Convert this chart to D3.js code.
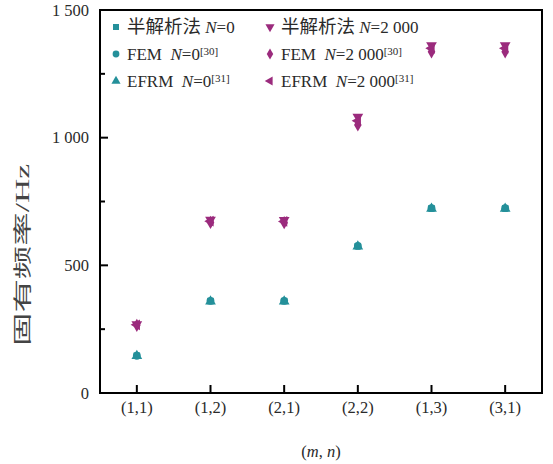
<!DOCTYPE html>
<html><head><meta charset="utf-8">
<script src="https://cdn.jsdelivr.net/npm/d3@7"></script>
<style>body{margin:0;background:#fff}</style>
</head><body>
<svg id="c" width="553" height="464"></svg>
<script>
const categories = ["(1,1)","(1,2)","(2,1)","(2,2)","(1,3)","(3,1)"];
const semi0    = [146, 360, 360, 575, 723, 723];
const fem0     = [146, 361, 361, 576, 724, 724];
const efrm0    = [145, 359, 359, 574, 722, 722];
const semi2000 = [269, 678, 677, 1082, 1362, 1362];
const fem2000  = [265, 668, 667, 1050, 1336, 1336];
const efrm2000 = [267, 673, 672, 1066, 1350, 1350];
const yTicks = [0, 500, 1000, 1500];
const yTickLabels = ["0", "500", "1 000", "1 500"];
const yMinor = [250, 750, 1250];

const teal = "#24909a", mag = "#9b2b7d";
const serif = "'Liberation Serif','Times New Roman',serif";
const cjk = "'Liberation Serif','Noto Sans CJK SC',serif";
const txt = "#2a2a2a";

const L = 100, R = 542, T = 10, B = 393;
const svg = d3.select("#c");
const x = d3.scalePoint().domain(categories).range([L, R]).padding(0.5);
const y = d3.scaleLinear().domain([0, 1500]).range([B, T]);

// frame
svg.append("rect").attr("x", L).attr("y", T).attr("width", R-L).attr("height", B-T)
  .attr("fill","none").attr("stroke","#000").attr("stroke-width",2);

// y axis ticks (inward)
const gy = svg.append("g");
yTicks.forEach((v,i)=>{
  gy.append("line").attr("x1",L).attr("x2",L+8).attr("y1",y(v)).attr("y2",y(v)).attr("stroke","#000").attr("stroke-width",2);
  gy.append("text").attr("x",L-11).attr("y",y(v)).attr("dy","0.35em").attr("text-anchor","end")
    .attr("font-family",serif).attr("font-size",16.5).attr("fill",txt).text(yTickLabels[i]);
});
yMinor.forEach(v=>{
  gy.append("line").attr("x1",L).attr("x2",L+5).attr("y1",y(v)).attr("y2",y(v)).attr("stroke","#000").attr("stroke-width",2);
});
// x axis ticks (inward)
categories.forEach(c=>{
  svg.append("line").attr("x1",x(c)).attr("x2",x(c)).attr("y1",B).attr("y2",B-8).attr("stroke","#000").attr("stroke-width",2);
  svg.append("text").attr("x",x(c)).attr("y",B+20).attr("text-anchor","middle")
    .attr("font-family",serif).attr("font-size",16.5).attr("fill",txt).text(c);
});
// axis titles
const xt = svg.append("text").attr("x",(L+R)/2).attr("y",457).attr("text-anchor","middle")
  .attr("font-family",serif).attr("font-size",16.5).attr("fill",txt);
xt.append("tspan").text("(");
xt.append("tspan").attr("font-style","italic").text("m");
xt.append("tspan").text(", ");
xt.append("tspan").attr("font-style","italic").text("n");
xt.append("tspan").text(")");

svg.append("text").attr("transform","translate(29,255) rotate(-90)").attr("text-anchor","middle")
  .attr("font-family",cjk).attr("font-size",18).attr("fill","#444")
  .attr("textLength",182).attr("lengthAdjust","spacingAndGlyphs").text("固有频率/Hz");

// symbols
const sym = {
  square: d3.symbol().type(d3.symbolSquare).size(42),
  circle: d3.symbol().type(d3.symbolCircle).size(48),
  tri: d3.symbol().type(d3.symbolTriangle).size(50),
  diamond: d3.symbol().type(d3.symbolDiamond).size(50)
};
function addSeries(vals, path, color, rot){
  svg.append("g").selectAll("path").data(vals).join("path")
    .attr("d", path())
    .attr("transform",(d,i)=>`translate(${x(categories[i])},${y(d)}) rotate(${rot})`)
    .attr("fill",color);
}
addSeries(semi0, sym.square, teal, 0);
addSeries(fem0, sym.circle, teal, 0);
addSeries(efrm0, sym.tri, teal, 0);
addSeries(semi2000, sym.tri, mag, 180);
addSeries(fem2000, sym.diamond, mag, 0);
addSeries(efrm2000, sym.tri, mag, -90);

// legend
const legend = [
  {c:0,r:0,p:sym.square,col:teal,rot:0,parts:[["半解析法","c"],[" ","n"],["N","i"],["=0","n"]]},
  {c:1,r:0,p:sym.tri,col:mag,rot:180,parts:[["半解析法","c"],[" ","n"],["N","i"],["=2 000","n"]]},
  {c:0,r:1,p:sym.circle,col:teal,rot:0,parts:[["FEM  ","n"],["N","i"],["=0","n"],["[30]","s"]]},
  {c:1,r:1,p:sym.diamond,col:mag,rot:0,parts:[["FEM  ","n"],["N","i"],["=2 000","n"],["[30]","s"]]},
  {c:0,r:2,p:sym.tri,col:teal,rot:0,parts:[["EFRM  ","n"],["N","i"],["=0","n"],["[31]","s"]]},
  {c:1,r:2,p:sym.tri,col:mag,rot:-90,parts:[["EFRM  ","n"],["N","i"],["=2 000","n"],["[31]","s"]]}
];
const colX = [116, 270], rowY = [27, 54, 81];
legend.forEach(e=>{
  const mx = colX[e.c], my = rowY[e.r];
  svg.append("path").attr("d", e.p.size(36)()).attr("fill",e.col)
    .attr("transform",`translate(${mx},${my}) rotate(${e.rot})`);
  const t = svg.append("text").attr("x",mx+11).attr("y",my).attr("dy","0.35em")
    .attr("font-family",cjk).attr("font-size",17).attr("fill",txt).attr("xml:space","preserve");
  e.parts.forEach(([s,k])=>{
    const ts = t.append("tspan").text(s);
    if(k==="i") ts.attr("font-style","italic");
    if(k==="c") ts.attr("font-size",18.5);
    if(k==="s") ts.attr("font-size",11).attr("baseline-shift","45%");
  });
});
</script>
</body></html>
